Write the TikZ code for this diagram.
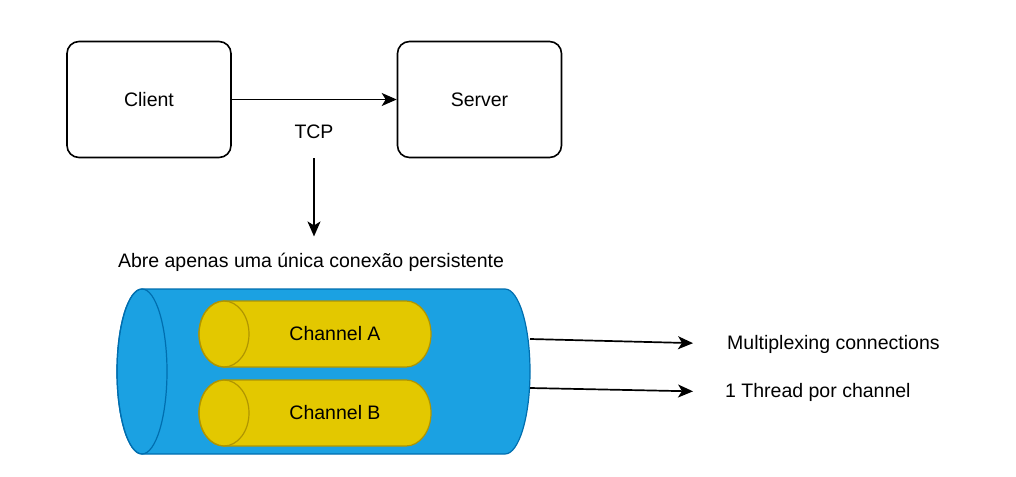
\documentclass[tikz,border=0pt]{standalone}
\usepackage{fontspec}
\setmainfont{Liberation Sans}
\usetikzlibrary{arrows.meta}
\definecolor{pipeblue}{HTML}{1BA1E2}
\definecolor{pipeline}{HTML}{006EAF}
\definecolor{chanyellow}{HTML}{E3C800}
\definecolor{chanline}{HTML}{B09500}

\begin{document}
\begin{tikzpicture}[x=1pt, y=-1pt, font=\fontsize{19.5}{23}\selectfont,
        box/.style={draw, rounded corners=12pt, line width=1.6pt, minimum width=164pt, minimum height=116pt},
        arr/.style={line width=1.7pt, -{Stealth[length=15pt, width=13pt, inset=4pt]}},
        lbl/.style={inner sep=2pt}]
        \useasboundingbox (0,0) rectangle (1016,476);
        % client and server
        \node[box] (client) at (149,99.5) {Client};
        \node[box] (server) at (479.5,99.5) {Server};
        \draw[arr] (client.east) -- (server.west);
        \node[lbl, anchor=base] (tcp) at (314,139) {TCP};
        \node[lbl, anchor=base] (abre) at (311,267) {Abre apenas uma única conexão persistente};
        \coordinate (tcpstart) at (314,158);
        \draw[arr, shorten >=14pt] (tcpstart) -- (tcpstart |- abre.north);
        % the connection pipe
        \draw[pipeline, fill=pipeblue, line width=1.2pt] (142,289) -- (505,289)
                arc[start angle=-90, end angle=90, x radius=25, y radius=82.5] -- (142,454)
                arc[start angle=90, end angle=270, x radius=25, y radius=82.5] -- cycle;
        \draw[pipeline, line width=1.2pt] (142,371.5) ellipse[x radius=25, y radius=82.5];
        % channels
        \foreach \cy/\nm/\txt in {334/chA/Channel A, 413/chB/Channel B} {
                \draw[chanline, fill=chanyellow, line width=1.2pt] (224,\cy-33) -- (406,\cy-33)
                        arc[start angle=-90, end angle=90, x radius=25, y radius=33] -- (224,\cy+33)
                        arc[start angle=90, end angle=270, x radius=25, y radius=33] -- cycle;
                \draw[chanline, line width=1.2pt] (224,\cy) ellipse[x radius=25, y radius=33];
                \node[lbl, anchor=base] (\nm) at (335,\cy+6) {\txt};
        }
        % outputs
        \coordinate (pipeA) at (530,339);
        \coordinate (pipeB) at (530,388);
        \node[lbl, anchor=base west] (mux) at (725,349) {Multiplexing connections};
        \node[lbl, anchor=base west] (thread) at (723,397) {1 Thread por channel};
        \draw[arr, shorten >=32pt] (pipeA) -- (mux.west);
        \draw[arr, shorten >=30pt] (pipeB) -- (thread.west);
\end{tikzpicture}
\end{document}
